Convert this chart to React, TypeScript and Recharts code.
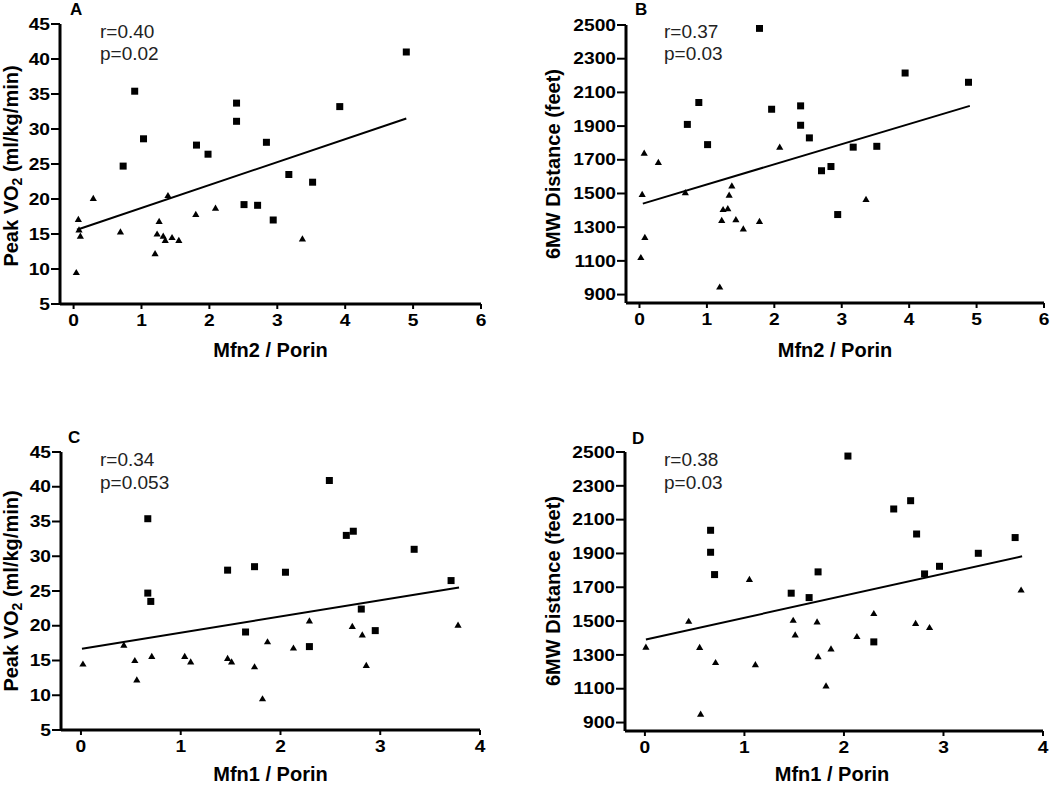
import React from 'react';
import { ScatterChart, Scatter, XAxis, YAxis, ReferenceLine } from 'recharts';

type Pt = [number, number];

// A: Peak VO2 vs Mfn2 / Porin
const aSquares: Pt[] = [
  [0.9, 35.4], [1.03, 28.6], [0.73, 24.7], [1.81, 27.7], [1.98, 26.4],
  [2.4, 33.7], [2.4, 31.1], [2.51, 19.2], [2.71, 19.1], [2.84, 28.1],
  [2.94, 17.0], [3.17, 23.5], [3.52, 22.4], [3.92, 33.2], [4.9, 41.0],
];
const aTriangles: Pt[] = [
  [0.04, 9.5], [0.07, 17.1], [0.08, 15.6], [0.1, 14.7], [0.29, 20.1],
  [0.69, 15.3], [1.2, 12.2], [1.23, 15.0], [1.26, 16.8], [1.32, 14.7],
  [1.35, 14.1], [1.39, 20.5], [1.45, 14.5], [1.55, 14.1], [1.8, 17.8],
  [2.09, 18.7], [3.37, 14.3],
];
const aFit: Pt[] = [[0.05, 15.6], [4.9, 31.5]];

// B: 6MW distance vs Mfn2 / Porin
const bSquares: Pt[] = [
  [1.78, 2480], [0.88, 2040], [0.71, 1910], [1.01, 1790], [1.96, 2000],
  [2.39, 2020], [2.39, 1905], [2.52, 1830], [2.7, 1635], [2.84, 1660],
  [2.94, 1375], [3.17, 1775], [3.52, 1780], [3.94, 2215], [4.88, 2160],
];
const bTriangles: Pt[] = [
  [0.07, 1740], [0.04, 1495], [0.08, 1240], [0.02, 1120], [0.28, 1685],
  [0.68, 1505], [1.19, 945], [1.22, 1340], [1.24, 1405], [1.31, 1410],
  [1.33, 1490], [1.37, 1545], [1.43, 1345], [1.54, 1290], [1.78, 1335],
  [2.08, 1775], [3.36, 1465],
];
const bFit: Pt[] = [[0.05, 1440], [4.9, 2020]];

// C: Peak VO2 vs Mfn1 / Porin
const cSquares: Pt[] = [
  [0.67, 35.4], [0.67, 24.7], [0.7, 23.5], [1.47, 28.0], [1.74, 28.5],
  [1.65, 19.1], [2.05, 27.7], [2.29, 17.0], [2.49, 40.9], [2.66, 33.0],
  [2.73, 33.6], [2.81, 22.4], [2.95, 19.3], [3.34, 31.0], [3.71, 26.5],
];
const cTriangles: Pt[] = [
  [0.02, 14.5], [0.43, 17.2], [0.54, 15.0], [0.56, 12.2], [0.71, 15.6],
  [1.04, 15.6], [1.1, 14.8], [1.47, 15.3], [1.51, 14.8], [1.74, 14.1],
  [1.82, 9.5], [1.87, 17.7], [2.13, 16.8], [2.29, 20.7], [2.72, 19.9],
  [2.82, 18.7], [2.86, 14.3], [3.78, 20.1],
];
const cFit: Pt[] = [[0.01, 16.7], [3.79, 25.5]];

// D: 6MW distance vs Mfn1 / Porin
const dSquares: Pt[] = [
  [0.66, 2037], [0.66, 1907], [0.7, 1775], [1.47, 1665], [1.65, 1639],
  [1.74, 1791], [2.04, 2476], [2.3, 1377], [2.5, 2163], [2.67, 2212],
  [2.73, 2015], [2.81, 1779], [2.96, 1824], [3.35, 1901], [3.72, 1994],
];
const dTriangles: Pt[] = [
  [0.01, 1346], [0.44, 1499], [0.55, 1344], [0.56, 950], [0.71, 1255],
  [1.05, 1747], [1.11, 1243], [1.49, 1505], [1.51, 1418], [1.73, 1495],
  [1.74, 1290], [1.82, 1117], [1.87, 1336], [2.13, 1409], [2.3, 1545],
  [2.72, 1487], [2.86, 1462], [3.78, 1684],
];
const dFit: Pt[] = [[0.01, 1391], [3.79, 1883]];

const vo2Ticks = [5, 10, 15, 20, 25, 30, 35, 40, 45];
const walkTicks = [900, 1100, 1300, 1500, 1700, 1900, 2100, 2300, 2500];
const mfn2Ticks = [0, 1, 2, 3, 4, 5, 6];
const mfn1Ticks = [0, 1, 2, 3, 4];

const FONT = 'Arial, "Liberation Sans", Helvetica, sans-serif';

const toPoints = (pts: Pt[]) => pts.map(([x, y]) => ({ x, y }));

const SquareDot = (props: any) => {
  const { cx, cy } = props;
  return <rect x={cx - 3.5} y={cy - 3.5} width={7} height={7} fill="#000" />;
};

const TriangleDot = (props: any) => {
  const { cx, cy } = props;
  return (
    <polygon
      points={`${cx},${cy - 3.6} ${cx + 3.6},${cy + 2.6} ${cx - 3.6},${cy + 2.6}`}
      fill="#000"
    />
  );
};

// tick labels in the figure are a bit wider than plain Arial bold
const StretchTick = (props: any) => {
  const { x, y, payload, textAnchor, vertical } = props;
  return (
    <text
      transform={`translate(${x},${y}) scale(1.2,1)`}
      x={0}
      y={0}
      dy={vertical ? '0.355em' : '0.71em'}
      textAnchor={textAnchor}
      fill="#000"
      fontSize={16}
      fontWeight="bold"
      fontFamily={FONT}
    >
      {payload.value}
    </text>
  );
};

interface PanelProps {
  left: number;
  top: number;
  width: number;
  height: number;
  margin: { top: number; right: number; bottom: number; left: number };
  yAxisWidth: number;
  xAxisHeight: number;
  squares: Pt[];
  triangles: Pt[];
  fit: Pt[];
  xDomain: [number, number];
  xTicks: number[];
  yDomain: [number, number];
  yTicks: number[];
}

function Panel(p: PanelProps) {
  return (
    <div style={{ position: 'absolute', left: p.left, top: p.top }}>
      <ScatterChart width={p.width} height={p.height} margin={p.margin}>
        <XAxis
          type="number"
          dataKey="x"
          domain={p.xDomain}
          ticks={p.xTicks}
          interval={0}
          allowDataOverflow
          height={p.xAxisHeight}
          axisLine={{ stroke: '#000', strokeWidth: 3 }}
          tickLine={{ stroke: '#000', strokeWidth: 2 }}
          tickSize={5}
          tickMargin={6}
          tick={(t: any) => <StretchTick {...t} />}
        />
        <YAxis
          type="number"
          dataKey="y"
          domain={p.yDomain}
          ticks={p.yTicks}
          interval={0}
          allowDataOverflow
          width={p.yAxisWidth}
          axisLine={{ stroke: '#000', strokeWidth: 3 }}
          tickLine={{ stroke: '#000', strokeWidth: 2 }}
          tickSize={9}
          tickMargin={1}
          tick={(t: any) => <StretchTick {...t} vertical />}
        />
        <ReferenceLine segment={toPoints(p.fit)} stroke="#000" strokeWidth={2} />
        <Scatter data={toPoints(p.squares)} shape={SquareDot} isAnimationActive={false} />
        <Scatter data={toPoints(p.triangles)} shape={TriangleDot} isAnimationActive={false} />
      </ScatterChart>
    </div>
  );
}

const letterStyle: React.CSSProperties = {
  position: 'absolute',
  fontSize: 17,
  fontWeight: 'bold',
  lineHeight: '17px',
};

const statStyle: React.CSSProperties = {
  position: 'absolute',
  fontSize: 19,
  lineHeight: '22.6px',
  color: '#222',
  whiteSpace: 'nowrap',
};

const xTitleStyle: React.CSSProperties = {
  position: 'absolute',
  fontSize: 20,
  fontWeight: 'bold',
  whiteSpace: 'nowrap',
  lineHeight: '22px',
  transform: 'translate(-50%, -50%)',
};

const yTitleStyle: React.CSSProperties = {
  position: 'absolute',
  fontSize: 20,
  fontWeight: 'bold',
  whiteSpace: 'nowrap',
  lineHeight: '20px',
  transform: 'translate(-50%, -50%) rotate(-90deg)',
};

const Vo2Title = () => (
  <>
    Peak VO<span style={{ fontSize: 14, position: 'relative', top: 4 }}>2</span> (ml/kg/min)
  </>
);

export default function App() {
  return (
    <div
      style={{
        position: 'absolute',
        left: 0,
        top: 0,
        width: 1050,
        height: 785,
        background: '#fff',
        fontFamily: FONT,
        color: '#000',
        overflow: 'hidden',
      }}
    >
      <Panel
        left={0} top={0} width={500} height={390}
        margin={{ top: 24, right: 19, bottom: 26, left: 0 }}
        yAxisWidth={60} xAxisHeight={60}
        squares={aSquares} triangles={aTriangles} fit={aFit}
        xDomain={[-0.2, 6]} xTicks={mfn2Ticks} yDomain={[5, 45]} yTicks={vo2Ticks}
      />
      <Panel
        left={520} top={0} width={530} height={390}
        margin={{ top: 25, right: 6, bottom: 27, left: 0 }}
        yAxisWidth={106} xAxisHeight={60}
        squares={bSquares} triangles={bTriangles} fit={bFit}
        xDomain={[-0.2, 6]} xTicks={mfn2Ticks} yDomain={[850, 2500]} yTicks={walkTicks}
      />
      <Panel
        left={0} top={400} width={500} height={385}
        margin={{ top: 52, right: 20, bottom: 5, left: 0 }}
        yAxisWidth={61} xAxisHeight={50}
        squares={cSquares} triangles={cTriangles} fit={cFit}
        xDomain={[-0.2, 4]} xTicks={mfn1Ticks} yDomain={[5, 45]} yTicks={vo2Ticks}
      />
      <Panel
        left={520} top={400} width={530} height={385}
        margin={{ top: 52, right: 7, bottom: 4, left: 0 }}
        yAxisWidth={105} xAxisHeight={50}
        squares={dSquares} triangles={dTriangles} fit={dFit}
        xDomain={[-0.2, 4]} xTicks={mfn1Ticks} yDomain={[850, 2500]} yTicks={walkTicks}
      />

      <div style={{ ...letterStyle, left: 70, top: 1 }}>A</div>
      <div style={{ ...letterStyle, left: 635, top: 1 }}>B</div>
      <div style={{ ...letterStyle, left: 68, top: 429 }}>C</div>
      <div style={{ ...letterStyle, left: 632, top: 430 }}>D</div>

      <div style={{ ...statStyle, left: 100, top: 20.6 }}>r=0.40<br />p=0.02</div>
      <div style={{ ...statStyle, left: 664, top: 20.6 }}>r=0.37<br />p=0.03</div>
      <div style={{ ...statStyle, left: 100, top: 449 }}>r=0.34<br />p=0.053</div>
      <div style={{ ...statStyle, left: 664, top: 449 }}>r=0.38<br />p=0.03</div>

      <div style={{ ...xTitleStyle, left: 270.5, top: 350 }}>Mfn2 / Porin</div>
      <div style={{ ...xTitleStyle, left: 835, top: 350 }}>Mfn2 / Porin</div>
      <div style={{ ...xTitleStyle, left: 270.5, top: 774 }}>Mfn1 / Porin</div>
      <div style={{ ...xTitleStyle, left: 832, top: 774 }}>Mfn1 / Porin</div>

      <div style={{ ...yTitleStyle, left: 12, top: 166 }}><Vo2Title /></div>
      <div style={{ ...yTitleStyle, left: 553, top: 164 }}>6MW Distance (feet)</div>
      <div style={{ ...yTitleStyle, left: 12, top: 591 }}><Vo2Title /></div>
      <div style={{ ...yTitleStyle, left: 553, top: 591 }}>6MW Distance (feet)</div>
    </div>
  );
}
